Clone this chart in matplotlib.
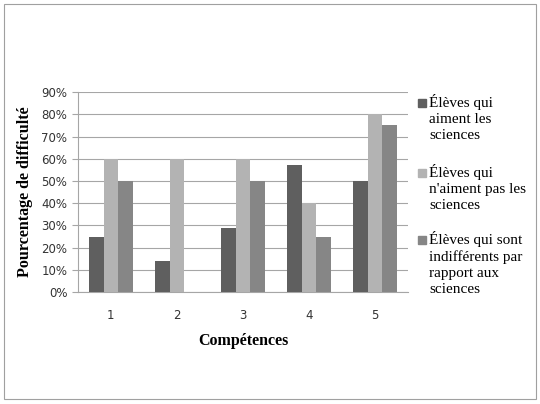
import matplotlib.pyplot as plt
import numpy as np
from matplotlib.patches import Rectangle
from matplotlib.ticker import PercentFormatter

categories = ["1", "2", "3", "4", "5"]
aiment = [25, 14, 29, 57, 50]
aiment_pas = [60, 60, 60, 40, 80]
indifferents = [50, 0, 50, 25, 75]
labels = ["Élèves qui\naiment les\nsciences",
          "Élèves qui\nn'aiment pas les\nsciences",
          "Élèves qui sont\nindifférents par\nrapport aux\nsciences"]
colors = ["#5f5f5f", "#b3b3b3", "#868686"]

W, H = 540, 404
fig = plt.figure(figsize=(W / 100, H / 100), dpi=100)
fig.patches.append(Rectangle((0.008, 0.012), 0.984, 0.978, transform=fig.transFigure,
                             fill=False, edgecolor="#a0a0a0", linewidth=0.8))
ax = fig.add_axes([0.144, 0.277, 0.612, 0.495])

x = np.arange(len(categories))
w = 0.22
for i, (vals, c) in enumerate(zip([aiment, aiment_pas, indifferents], colors)):
    ax.bar(x + (i - 1) * w, vals, w, color=c, zorder=3)

ax.set_xlim(-0.5, len(categories) - 0.5)
ax.set_ylim(0, 90)
ax.set_yticks(range(0, 91, 10))
ax.yaxis.set_major_formatter(PercentFormatter(decimals=0))
ax.set_xticks(x)
ax.set_xticklabels(categories)
ax.grid(axis="y", color="#a6a6a6", linewidth=0.8, zorder=0)
for s in ["top", "right"]:
    ax.spines[s].set_visible(False)
ax.spines["left"].set_color("#a6a6a6")
ax.spines["bottom"].set_color("#a6a6a6")
ax.tick_params(axis="y", length=4, color="#a6a6a6", labelsize=8.5, labelcolor="#333333")
ax.tick_params(axis="x", length=0, pad=12, labelsize=8.5, labelcolor="#333333")

ax.set_ylabel("Pourcentage de difficulté", fontfamily="Liberation Serif",
              fontweight="bold", fontsize=11.5, labelpad=6)
ax.set_xlabel("Compétences", fontfamily="Liberation Serif",
              fontweight="bold", fontsize=11.5, labelpad=8)

# legend drawn by hand: marker sits on the first line of each entry
tops = [94, 164, 231]
for lab, c, t in zip(labels, colors, tops):
    fig.patches.append(Rectangle((418 / W, 1 - (t + 13) / H), 8 / W, 8 / H,
                                 transform=fig.transFigure, color=c))
    fig.text(429 / W, 1 - t / H, lab, ha="left", va="top",
             fontfamily="Liberation Serif", fontsize=11, linespacing=1.3)

fig.savefig("out.png", dpi=100)
